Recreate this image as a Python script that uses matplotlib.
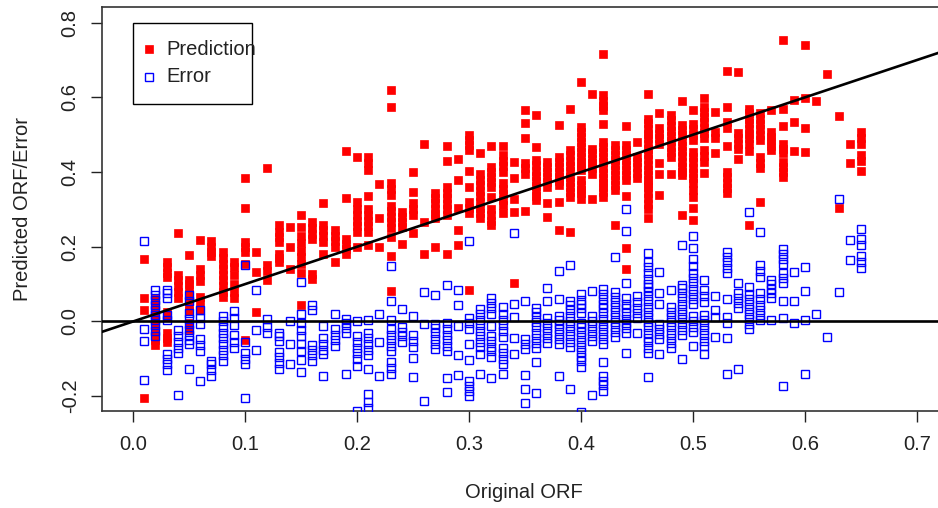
import numpy as np
import matplotlib
matplotlib.use("Agg")
import matplotlib.pyplot as plt
from matplotlib.patches import Rectangle

plt.rcParams['font.family'] = ['Liberation Sans', 'DejaVu Sans']

# Original ORF levels (x positions of the point columns)
orf_levels = [0.01, 0.02, 0.03, 0.04, 0.05, 0.06, 0.07, 0.08, 0.09, 0.10,
              0.11, 0.12, 0.13, 0.14, 0.15, 0.16, 0.17, 0.18, 0.19, 0.20,
              0.21, 0.22, 0.23, 0.24, 0.25, 0.26, 0.27, 0.28, 0.29, 0.30,
              0.31, 0.32, 0.33, 0.34, 0.35, 0.36, 0.37, 0.38, 0.39, 0.40,
              0.41, 0.42, 0.43, 0.44, 0.45, 0.46, 0.47, 0.48, 0.49, 0.50,
              0.51, 0.52, 0.53, 0.54, 0.55, 0.56, 0.57, 0.58, 0.59, 0.60,
              0.61, 0.62, 0.63, 0.64, 0.65]

# Predicted ORF for each original level
predicted = [
    [0.166, 0.062, 0.03, -0.206],
    [0.06, 0.045, 0.03, 0.017, 0.003, -0.01, -0.024, -0.037, -0.05, -0.064],
    [0.16, 0.145, 0.13, 0.118, 0.026, 0.013, -0.032, -0.045, -0.054],
    [0.236, 0.125, 0.11, 0.095, 0.08, 0.062],
    [0.178, 0.11, 0.1, 0.086, 0.073, 0.058, 0.042, 0.028, -0.005, -0.021],
    [0.218, 0.14, 0.124, 0.108, 0.066, 0.05, 0.03],
    [0.215, 0.2, 0.185, 0.175],
    [0.185, 0.17, 0.155, 0.14, 0.125, 0.11, 0.095, 0.08, 0.065],
    [0.16, 0.145, 0.125, 0.1, 0.08, 0.062],
    [0.383, 0.305, 0.213, 0.2, 0.185, 0.155, -0.05],
    [0.187, 0.133, 0.025],
    [0.411, 0.15, 0.135, 0.112],
    [0.258, 0.24, 0.225, 0.212, 0.182, 0.17, 0.16],
    [0.254, 0.2, 0.14],
    [0.285, 0.254, 0.23, 0.21, 0.19, 0.173, 0.155, 0.13, 0.044],
    [0.267, 0.25, 0.235, 0.222, 0.128, 0.115],
    [0.316, 0.258, 0.245, 0.23, 0.214, 0.182],
    [0.245, 0.23, 0.215, 0.2, 0.16],
    [0.456, 0.331, 0.222, 0.208, 0.195, 0.182],
    [0.439, 0.32, 0.3, 0.285, 0.27, 0.255, 0.24, 0.2],
    [0.441, 0.425, 0.405, 0.336, 0.3, 0.285, 0.27, 0.255, 0.24, 0.205],
    [0.367, 0.276, 0.2],
    [0.619, 0.573, 0.371, 0.355, 0.338, 0.31, 0.295, 0.28, 0.265, 0.25, 0.227, 0.175, 0.082],
    [0.294, 0.28, 0.267, 0.254, 0.207],
    [0.399, 0.347, 0.318, 0.302, 0.285, 0.236],
    [0.474, 0.267, 0.182],
    [0.343, 0.33, 0.316, 0.3, 0.288, 0.276, 0.2],
    [0.47, 0.43, 0.36, 0.345, 0.33, 0.315, 0.3, 0.285, 0.182],
    [0.434, 0.38, 0.303, 0.245, 0.205],
    [0.499, 0.485, 0.472, 0.459, 0.403, 0.36, 0.32, 0.305, 0.29, 0.084],
    [0.45, 0.396, 0.378, 0.365, 0.35, 0.335, 0.32, 0.305, 0.29, 0.276],
    [0.47, 0.414, 0.4, 0.387, 0.373, 0.36, 0.332, 0.3, 0.285, 0.27, 0.258],
    [0.47, 0.445, 0.43, 0.415, 0.4, 0.371, 0.355, 0.34, 0.325, 0.311, 0.29],
    [0.426, 0.385, 0.327, 0.294, 0.104],
    [0.567, 0.53, 0.492, 0.423, 0.41, 0.396, 0.296],
    [0.552, 0.468, 0.432, 0.418, 0.404, 0.39, 0.376, 0.362, 0.348, 0.335, 0.325],
    [0.427, 0.413, 0.4, 0.387, 0.373, 0.36, 0.316, 0.28],
    [0.526, 0.441, 0.428, 0.414, 0.4, 0.387, 0.376, 0.365, 0.319, 0.245],
    [0.57, 0.459, 0.445, 0.43, 0.416, 0.402, 0.388, 0.374, 0.36, 0.347, 0.334, 0.24],
    [0.641, 0.521, 0.507, 0.494, 0.481, 0.467, 0.454, 0.441, 0.427, 0.415, 0.405,
     0.378, 0.365, 0.352, 0.343, 0.327],
    [0.608, 0.463, 0.45, 0.436, 0.423, 0.41, 0.396, 0.328],
    [0.717, 0.606, 0.59, 0.578, 0.566, 0.528, 0.481, 0.467, 0.454, 0.44, 0.426,
     0.412, 0.398, 0.385, 0.372, 0.36, 0.347, 0.334],
    [0.472, 0.458, 0.445, 0.432, 0.418, 0.405, 0.392, 0.378, 0.365, 0.352, 0.258],
    [0.523, 0.472, 0.458, 0.445, 0.432, 0.418, 0.405, 0.392, 0.378, 0.337, 0.198, 0.14],
    [0.481, 0.441, 0.427, 0.413, 0.398, 0.383],
    [0.608, 0.543, 0.53, 0.516, 0.503, 0.49, 0.476, 0.462, 0.448, 0.434, 0.42,
     0.406, 0.392, 0.378, 0.369, 0.36, 0.345, 0.33, 0.315, 0.3, 0.276],
    [0.557, 0.517, 0.503, 0.49, 0.476, 0.423, 0.394, 0.338],
    [0.552, 0.538, 0.524, 0.51, 0.496, 0.482, 0.468, 0.454, 0.44, 0.396],
    [0.591, 0.526, 0.512, 0.498, 0.484, 0.47, 0.456, 0.442, 0.428, 0.414, 0.4, 0.392, 0.285],
    [0.566, 0.528, 0.514, 0.5, 0.485, 0.454, 0.44, 0.426, 0.412, 0.398, 0.384,
     0.37, 0.352, 0.334, 0.303, 0.272],
    [0.597, 0.575, 0.561, 0.547, 0.533, 0.519, 0.505, 0.492, 0.459, 0.443, 0.427, 0.398],
    [0.561, 0.508, 0.49, 0.452],
    [0.67, 0.575, 0.534, 0.517, 0.469, 0.4, 0.386, 0.372, 0.357, 0.343],
    [0.668, 0.505, 0.49, 0.476, 0.463, 0.436],
    [0.57, 0.557, 0.543, 0.53, 0.516, 0.503, 0.49, 0.476, 0.457, 0.258],
    [0.557, 0.543, 0.529, 0.515, 0.5, 0.485, 0.441, 0.425, 0.41, 0.32],
    [0.567, 0.508, 0.495, 0.482, 0.47, 0.459],
    [0.753, 0.57, 0.524, 0.476, 0.463, 0.45, 0.427, 0.413, 0.4, 0.387],
    [0.594, 0.534, 0.457],
    [0.741, 0.597, 0.519, 0.454],
    [0.591],
    [0.662],
    [0.55, 0.303],
    [0.475, 0.423],
    [0.508, 0.492, 0.476, 0.445, 0.43, 0.403],
]

x_ticks = [0.0, 0.1, 0.2, 0.3, 0.4, 0.5, 0.6, 0.7]
y_ticks = [-0.2, 0.0, 0.2, 0.4, 0.6, 0.8]
legend_labels = ['Prediction', 'Error']

# flatten into point arrays; error = original - predicted
orf = np.array([lv for lv, vals in zip(orf_levels, predicted) for _ in vals])
pred = np.array([v for vals in predicted for v in vals])
err = orf - pred

FS = 14.5
INK = '#222222'

fig = plt.figure(figsize=(9.38, 5.08), dpi=100)
ax = fig.add_axes([0.1087, 0.191, 0.8935, 0.795])

red_style = dict(linestyle='none', marker='s', ms=5.8, mfc='#ff0000',
                 mec='#ff0000', mew=0.5)
blue_style = dict(linestyle='none', marker='s', ms=6.2, mfc='none',
                  mec='#0000ff', mew=1.0)

ax.plot(orf, pred, zorder=2, **red_style)
ax.plot(orf, err, zorder=3, **blue_style)

ax.axline((0, 0), slope=1, color='black', lw=1.9, zorder=4)
ax.axhline(0, color='black', lw=1.9, zorder=4)

ax.set_xlim(-0.0277, 0.7205)
ax.set_ylim(-0.2395, 0.8415)
ax.set_xticks(x_ticks)
ax.set_xticklabels([f'{t:.1f}' for t in x_ticks])
ax.set_yticks(y_ticks)
ax.set_yticklabels([f'{t:.1f}' for t in y_ticks], rotation=90, va='center')
ax.tick_params(direction='out', length=8, width=1, labelsize=FS,
               colors=INK, pad=9)
ax.tick_params(axis='y', pad=8)
ax.spines['right'].set_visible(False)
for s in ['left', 'bottom', 'top']:
    ax.spines[s].set_color('#333333')
    ax.spines[s].set_linewidth(1.2)

ax.set_xlabel('Original ORF', fontsize=FS, color=INK)
ax.xaxis.set_label_coords(0.503, -0.178)
ax.set_ylabel('Predicted ORF/Error', fontsize=FS, color=INK)
ax.yaxis.set_label_coords(-0.083, 0.5)

# legend box drawn the way base R does it (text runs to the frame edge)
ax.add_patch(Rectangle((0.037, 0.760), 0.142, 0.200, transform=ax.transAxes,
                       fill=True, facecolor='white', edgecolor='black',
                       lw=1.0, zorder=6))
ax.plot([0.0561], [0.896], transform=ax.transAxes, zorder=7,
        **dict(red_style, ms=5.4))
ax.plot([0.0561], [0.827], transform=ax.transAxes, zorder=7, **blue_style)
ax.text(0.0764, 0.896, legend_labels[0], transform=ax.transAxes, fontsize=FS,
        color=INK, va='center', ha='left', zorder=7)
ax.text(0.0764, 0.827, legend_labels[1], transform=ax.transAxes, fontsize=FS,
        color=INK, va='center', ha='left', zorder=7)

fig.savefig('out.png', dpi=100)
